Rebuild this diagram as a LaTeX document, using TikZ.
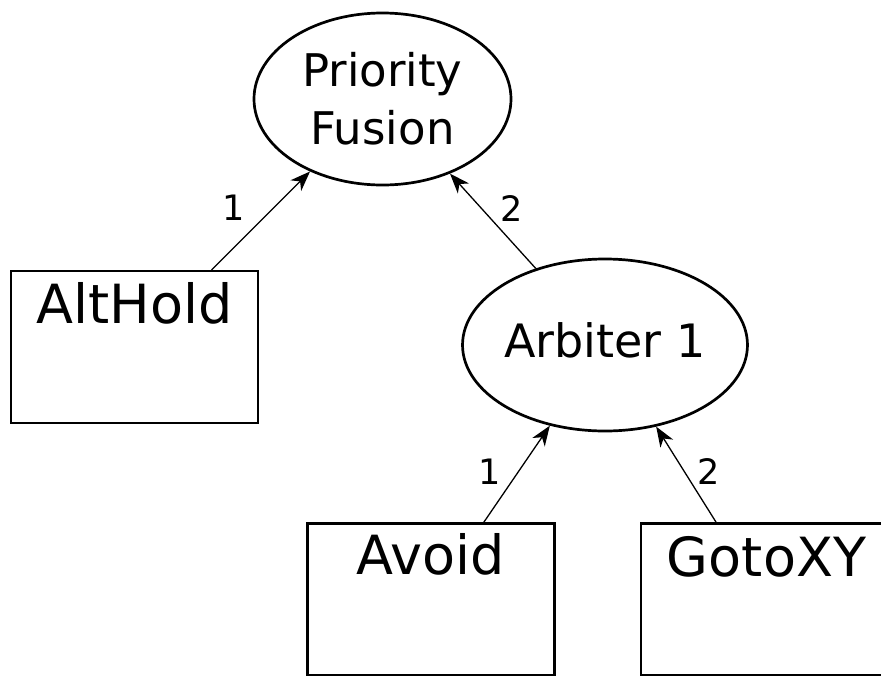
\documentclass[tikz,border=0pt]{standalone}
\usepackage{fontspec}
\setmainfont{DejaVu Sans}
\usetikzlibrary{arrows.meta,shapes.geometric}
\begin{document}
\begin{tikzpicture}[x=1pt,y=1pt,
  ell/.style={ellipse,draw,line width=2.7pt,minimum width=257pt,minimum height=172pt,inner sep=0pt,align=center},
  blk/.style={rectangle,draw,line width=2.2pt,minimum width=247pt,minimum height=152pt,inner sep=0pt},
  blktxt/.style={anchor=base,inner sep=0pt,font=\fontsize{54}{60}\selectfont},
  arr/.style={-{Stealth[length=20pt,width=15pt,inset=6pt]},line width=1.3pt},
  lbl/.style={inner sep=0pt,font=\fontsize{35}{40}\selectfont}]
\useasboundingbox (0,0) rectangle (881,-675);
\node[ell,font=\fontsize{45}{58}\selectfont] (pf) at (382.5,-99) {Priority\\Fusion};
\node[ell,font=\fontsize{46}{52}\selectfont,text depth=10pt] (arb) at (605,-345) {Arbiter 1};
\node[blk] (alt) at (134.5,-347) {};
\node[blk] (avoid) at (431,-599.5) {};
\node[blk] (goto) at (764.5,-599.5) {};
\node[blktxt] (alttxt) at ([yshift=-54pt]alt.north) {AltHold};
\node[blktxt] (avoidtxt) at ([yshift=-52pt]avoid.north) {Avoid};
\node[blktxt] (gototxt) at ([xshift=2pt,yshift=-54pt]goto.north) {GotoXY};
\draw[arr] (alt) -- (pf);
\draw[arr] (arb) -- (pf);
\draw[arr] (avoid) -- (arb);
\draw[arr] (goto) -- (arb);
\node[lbl] (l1) at (234,-208) {1};
\node[lbl] (l2) at (511.5,-208.5) {2};
\node[lbl] (l3) at (490,-472) {1};
\node[lbl] (l4) at (709,-472) {2};
\end{tikzpicture}
\end{document}
